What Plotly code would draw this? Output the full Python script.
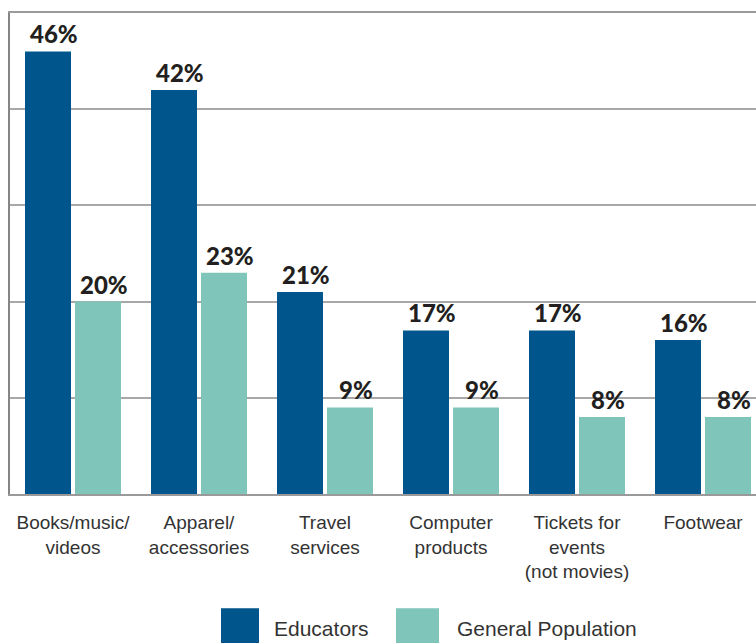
import plotly.graph_objects as go

categories = ["Books/music/<br>videos", "Apparel/<br>accessories", "Travel<br>services",
              "Computer<br>products", "Tickets for<br>events<br>(not movies)", "Footwear"]
educators = [46, 42, 21, 17, 17, 16]
general_population = [20, 23, 9, 9, 8, 8]
series_names = ["Educators", "General Population"]
series_colors = ["#00568C", "#7FC5B9"]

W, H = 756, 643
L, T, B = 10, 12.5, 148.5
plot_w = W - L
step = 126.0  # pixel spacing between categories
x_hi = -0.5 + plot_w / step

fig = go.Figure()
for name, vals, col in zip(series_names, [educators, general_population], series_colors):
    fig.add_trace(go.Bar(x=list(range(len(categories))), y=vals, name=name,
                         marker=dict(color=col, line=dict(width=0)), showlegend=False))

# value labels above each bar
for k, vals in enumerate([educators, general_population]):
    shift = -25 if k == 0 else 25
    for i, v in enumerate(vals):
        fig.add_annotation(x=i, y=v, text=f"{v}%", showarrow=False,
                           xanchor="center", yanchor="bottom", xshift=shift + 6, yshift=1,
                           font=dict(family="Lato", size=24, weight=900, color="#231F20"))

# custom legend below the plot
ph = H - T - B
def py(pix):
    return (H - B - pix) / ph
def px(pix):
    return (pix - L) / plot_w

legend_items = [(221, 259, 272), (396, 439, 455)]
for (x0, x1, tx), name, col in zip(legend_items, series_names, series_colors):
    fig.add_shape(type="rect", xref="paper", yref="paper", x0=px(x0), x1=px(x1),
                  y0=py(609), y1=py(650), fillcolor=col, line=dict(width=0), layer="above")
    fig.add_annotation(xref="paper", yref="paper", x=px(tx), y=py(629), text=name,
                       showarrow=False, xanchor="left", yanchor="middle",
                       font=dict(family="Liberation Sans", size=21, color="#333333"))

fig.update_layout(
    width=W, height=H,
    margin=dict(l=L, r=0, t=T, b=B, pad=0),
    plot_bgcolor="white", paper_bgcolor="white",
    barmode="group", bargap=26 / 126, bargroupgap=0.08,
    xaxis=dict(range=[-0.5, x_hi], tickmode="array", tickvals=list(range(len(categories))),
               ticktext=categories, showgrid=False, zeroline=False,
               showline=True, linecolor="#9A9A9A", linewidth=2, mirror=True,
               ticks="", ticklabelstandoff=10,
               tickfont=dict(family="Liberation Sans", size=19, color="#333333")),
    yaxis=dict(range=[0, 50], tickvals=[10, 20, 30, 40], showticklabels=False,
               showgrid=True, gridcolor="#A8A8A8", gridwidth=1.5, zeroline=False,
               showline=True, linecolor="#858585", linewidth=2, ticks=""),
    showlegend=False,
)

fig.write_html("out.html")
